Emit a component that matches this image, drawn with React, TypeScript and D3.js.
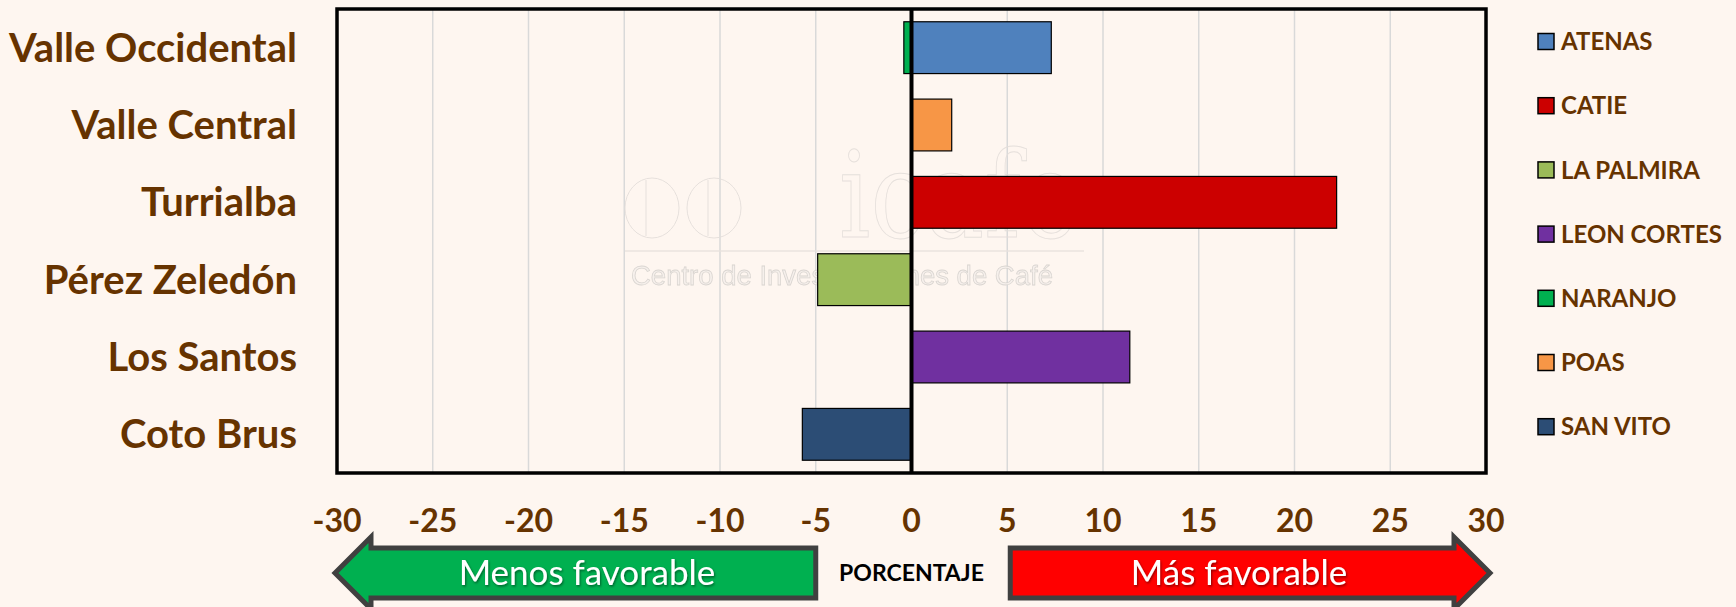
import React from "react";
import * as d3 from "d3";

// regions (y axis), stations (legend/series)
const regions = ["Valle Occidental", "Valle Central", "Turrialba", "Pérez Zeledón", "Los Santos", "Coto Brus"];
const stations = ["ATENAS", "CATIE", "LA PALMIRA", "LEON CORTES", "NARANJO", "POAS", "SAN VITO"];
const stationRegion = ["Valle Occidental", "Turrialba", "Pérez Zeledón", "Los Santos", "Valle Occidental", "Valle Central", "Coto Brus"];
const stationValues = [7.3, 22.2, -4.9, 11.4, -0.4, 2.1, -5.7];
const stationColors = ["#4F81BD", "#CC0000", "#9BBB59", "#7030A0", "#00B050", "#F79646", "#2C4D75"];
const xTicks = [-30, -25, -20, -15, -10, -5, 0, 5, 10, 15, 20, 25, 30];

const W = 1736;
const H = 607;
const BG = "#FEF6F0";
const BROWN = "#663300";
const FONT = "Lato, 'Open Sans', sans-serif";

export default function App() {
  const x = d3.scaleLinear().domain([-30, 30]).range([337, 1486]);
  const y = d3.scaleBand().domain(regions).range([9, 473]).paddingInner(0.33).paddingOuter(0.165);
  const top = 9, bottom = 473;

  const bars = stations.map((s, i) => ({
    name: s,
    region: stationRegion[i],
    value: stationValues[i],
    color: stationColors[i],
  }));

  // bottom arrows
  const aMid = 573, bodyHalf = 25, headHalf = 36, head = 36;
  const gx0 = x(-30) - 2, gx1 = x(-5);
  const greenPath = `M${gx0},${aMid} L${gx0 + head},${aMid - headHalf} L${gx0 + head},${aMid - bodyHalf} L${gx1},${aMid - bodyHalf} L${gx1},${aMid + bodyHalf} L${gx0 + head},${aMid + bodyHalf} L${gx0 + head},${aMid + headHalf} Z`;
  const rx0 = x(5) + 3, rx1 = x(30) + 4;
  const redPath = `M${rx1},${aMid} L${rx1 - head},${aMid - headHalf} L${rx1 - head},${aMid - bodyHalf} L${rx0},${aMid - bodyHalf} L${rx0},${aMid + bodyHalf} L${rx1 - head},${aMid + bodyHalf} L${rx1 - head},${aMid + headHalf} Z`;

  return (
    <svg width={W} height={H} style={{ position: "absolute", left: 0, top: 0, display: "block" }} fontFamily={FONT}>
      <defs>
        <filter id="shadow" x="-10%" y="-30%" width="120%" height="160%">
          <feDropShadow dx="1" dy="1.5" stdDeviation="0.8" floodColor="#000" floodOpacity="0.45" />
        </filter>
      </defs>
      <rect x={0} y={0} width={W} height={H} fill={BG} />

      {/* gridlines */}
      {xTicks.filter(t => t !== -30 && t !== 30 && t !== 0).map(t => (
        <line key={t} x1={x(t)} x2={x(t)} y1={top} y2={bottom} stroke="#D9D9D9" strokeWidth={1.5} />
      ))}

      {/* faint watermark */}
      <g opacity={0.9}>
        <ellipse cx={652} cy={208} rx={27} ry={30} fill="none" stroke="#E4DEDA" strokeWidth={1} />
        <ellipse cx={714} cy={208} rx={27} ry={30} fill="none" stroke="#E4DEDA" strokeWidth={1} />
        <line x1={646} x2={646} y1={180} y2={236} stroke="#E4DEDA" />
        <line x1={708} x2={708} y1={180} y2={236} stroke="#E4DEDA" />
        <text x={839} y={237} fontFamily="'DejaVu Serif', serif" fontSize={120} textLength={240} lengthAdjust="spacingAndGlyphs"
          fill="none" stroke="#E4DEDA" strokeWidth={1}>icafe</text>
        <line x1={625} x2={1084} y1={251} y2={251} stroke="#E8E2DE" strokeWidth={1.5} />
        <text x={631} y={285} fontFamily="'Liberation Sans', Arial, sans-serif" fontSize={27.5}
          fill="#F6F0EC" stroke="#D6D2CE" strokeWidth={0.8}>Centro de Investigaciones de Café</text>
      </g>

      {/* bars */}
      {bars.map(b => (
        <rect key={b.name}
          x={x(Math.min(0, b.value))}
          y={y(b.region)!}
          width={Math.abs(x(b.value) - x(0))}
          height={y.bandwidth()}
          fill={b.color} stroke="#000" strokeWidth={1.2} />
      ))}

      {/* zero line */}
      <line x1={x(0)} x2={x(0)} y1={top} y2={bottom} stroke="#000" strokeWidth={4} />

      {/* plot border */}
      <rect x={x(-30)} y={top} width={x(30) - x(-30)} height={bottom - top} fill="none" stroke="#000" strokeWidth={3.5} />

      {/* category labels */}
      {regions.map(r => (
        <text key={r} x={297} y={y(r)! + y.bandwidth() / 2} dy="0.35em" textAnchor="end"
          fontSize={40} fontWeight={700} fill={BROWN}>{r}</text>
      ))}

      {/* x tick labels */}
      {xTicks.map(t => (
        <text key={t} x={x(t)} y={532} textAnchor="middle" fontSize={32} fontWeight={700} fill={BROWN}>{t}</text>
      ))}

      {/* legend */}
      {stations.map((s, i) => {
        const cy = 41.5 + i * 64.2;
        return (
          <g key={s}>
            <rect x={1538} y={cy - 8} width={16} height={16} fill={stationColors[i]} stroke="#000" strokeWidth={1.5} />
            <text x={1561} y={cy} dy="0.36em" fontSize={24} fontWeight={700} fill={BROWN}>{s}</text>
          </g>
        );
      })}

      {/* arrows */}
      <path d={greenPath} fill="#00B050" stroke="#404040" strokeWidth={5} strokeLinejoin="miter" />
      <path d={redPath} fill="#FF0000" stroke="#404040" strokeWidth={5} strokeLinejoin="miter" />
      <text x={587} y={aMid} dy="0.35em" textAnchor="middle" fontSize={35} fill="#fff" filter="url(#shadow)">Menos favorable</text>
      <text x={1239} y={aMid} dy="0.35em" textAnchor="middle" fontSize={35} fill="#fff" filter="url(#shadow)">Más favorable</text>
      <text x={x(0)} y={aMid} dy="0.35em" textAnchor="middle" fontSize={23} fontWeight={700} fill="#000">PORCENTAJE</text>
    </svg>
  );
}
